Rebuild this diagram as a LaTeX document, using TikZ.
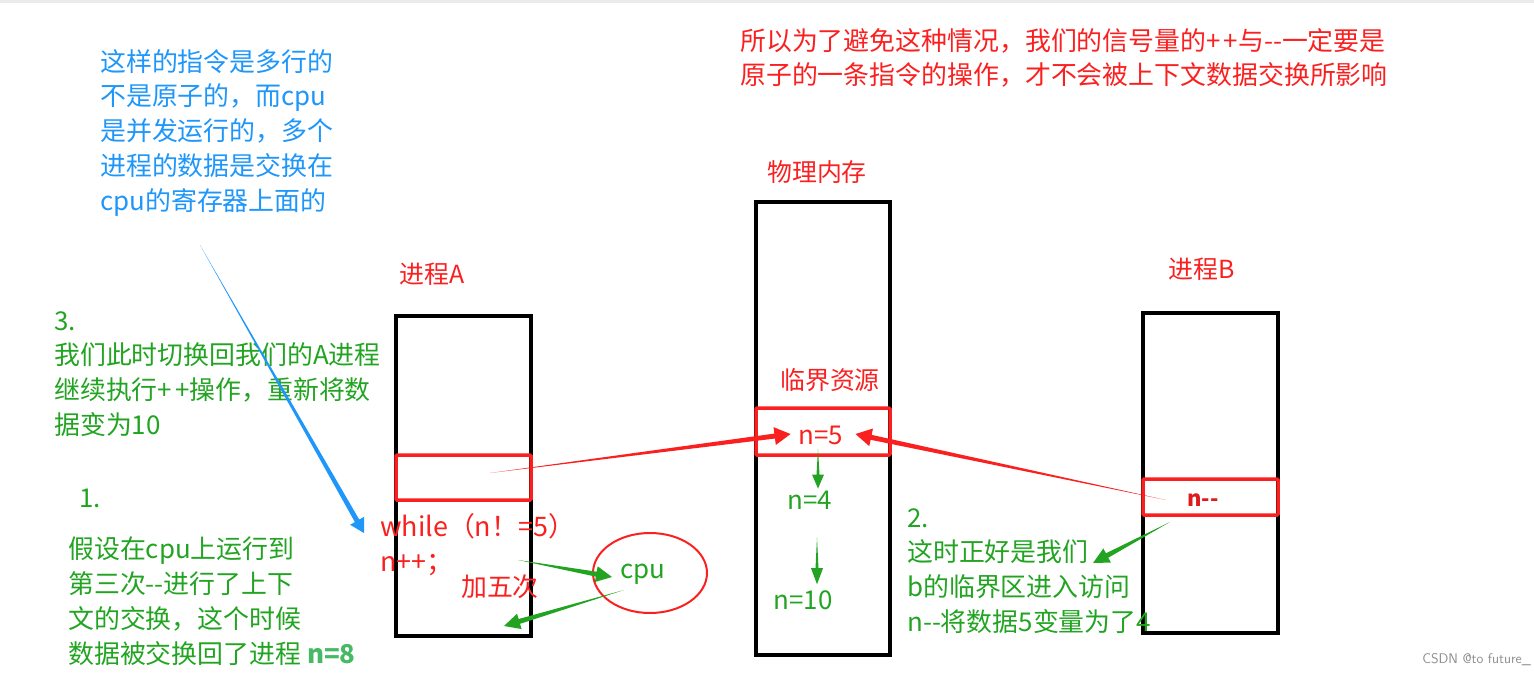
\documentclass[tikz,border=0pt]{standalone}
\usepackage{fontspec}
\newfontfamily\cjk{Noto Sans CJK SC}
\usetikzlibrary{calc}
\definecolor{inkred}{RGB}{250,32,32}
\definecolor{inkgreen}{RGB}{34,164,34}
\definecolor{lightgreen}{RGB}{70,185,100}
\definecolor{inkblue}{RGB}{30,150,250}
% tapered arrow: colour, tail, tip, half width at head, head half width, head length
\newcommand{\taperarrow}[6]{%
  \coordinate (tp-h) at ($(#3)!#6!(#2)$);
  \fill[#1] (#2) -- ($(tp-h)!#4!90:(#3)$) -- ($(tp-h)!#5!90:(#3)$) -- (#3)
    -- ($(tp-h)!#5!-90:(#3)$) -- ($(tp-h)!#4!-90:(#3)$) -- cycle;
}
\begin{document}
\begin{tikzpicture}[x=1bp,y=-1bp,line join=miter,
  every node/.style={font=\cjk\fontsize{26}{35}\selectfont,inner sep=0pt},
  note/.style={align=left,anchor=north west},
  cell/.style={draw=black,line width=3.5bp},
  slot/.style={draw=inkred,line width=3.5bp,rounded corners=1bp}]
  \useasboundingbox (0,0) rectangle (1534,676);
  \fill[black!8] (0,0) rectangle (1534,3);
%%
  % Node: procA
  \node[cell,minimum width=135bp,minimum height=320bp] (procA) at (463.5,476) {};
  \node[slot,minimum width=135bp,minimum height=45bp] (slotA) at (463.5,477.5) {};
  \node[text=inkred,font=\cjk\fontsize{25}{35}\selectfont] (nameA) at (432,274) {进程A};
  % Node: mem
  \node[cell,minimum width=134bp,minimum height=453bp] (mem) at (823,428.5) {};
  \node[slot,minimum width=134bp,minimum height=47bp] (slotM) at (823,431.5) {};
  \node[text=inkred,font=\cjk\fontsize{25}{35}\selectfont] (nameM) at (817,172) {物理内存};
  \node[text=inkred,font=\cjk\fontsize{25}{35}\selectfont] (crit) at (830,380) {临界资源};
  \node[text=inkred] (n5) at (821,435) {n=5};
  \node[text=inkgreen] (n4) at (810,500) {n=4};
  \node[text=inkgreen] (n10) at (803,600) {n=10};
  % Node: procB
  \node[cell,minimum width=135bp,minimum height=320bp] (procB) at (1210.5,473) {};
  \node[slot,minimum width=135bp,minimum height=36bp] (slotB) at (1210.5,497) {};
  \node[text=inkred,font=\cjk\fontsize{25}{35}\selectfont] (nameB) at (1202,269) {进程B};
  \node[text=inkred!88!black,font=\cjk\bfseries\fontsize{22}{30}\selectfont] (ndec) at (1203,500) {n-{}-};
  % Node: cpu
  \draw[inkred,line width=2bp] (650,573) ellipse (57bp and 40bp);
  \node[text=inkgreen] (cpu) at (643,574) {cpu};
  % Node: code
  \node[note,text=inkred,font=\cjk\fontsize{27}{35}\selectfont] (code) at (380,513) {while（n！=5）\\n++；};
  \node[text=inkred] (five) at (500,587) {加五次};
  % Node: notes
  \node[note,text=inkblue] (why) at (100,49)
    {这样的指令是多行的\\不是原子的，而cpu\\是并发运行的，多个\\进程的数据是交换在\\cpu的寄存器上面的};
  \node[note,text=inkred,font=\cjk\fontsize{26}{34}\selectfont] (sum) at (740,28)
    {所以为了避免这种情况，我们的信号量的+\kern3bp+与-{}-一定要是\\原子的一条指令的操作，才不会被上下文数据交换所影响};
  \node[note,text=inkgreen] (step3) at (54,311)
    {3.\\我们此时切换回我们的A进程\\继续执行+\kern3bp+操作，重新将数\\据变为10};
  \node[text=inkgreen,anchor=west] (step1) at (79,498) {1.};
  \node[note,text=inkgreen] (step1t) at (68,537)
    {假设在cpu上运行到\\第三次-{}-进行了上下\\文的交换，这个时候\\数据被交换回了进程 {\bfseries\color{lightgreen}n=8}};
  \node[note,text=inkgreen] (step2) at (907,508)
    {2.\\这时正好是我们\\b的临界区进入访问\\n-{}-将数据5变量为了4};
  \node[text=black!45,font=\sffamily\fontsize{14}{16}\selectfont,anchor=east] (mark) at (1531,660) {CSDN @to future\_};
%%
  \coordinate (blueTail) at (200,245);
  \coordinate (blueTip) at (364,533);
  \coordinate (aTail) at (490,473);
  \coordinate (aTip) at ($(n5.west)+(-8,-1)$);
  \coordinate (bTail) at (1166,500);
  \coordinate (bTip) at ($(n5.east)+(12,-1)$);
  \coordinate (toCpu) at (612,577);
  \coordinate (fromCode) at (518,560);
  \coordinate (fromCpu) at (624,590);
  \coordinate (backA) at (504,626);
  \coordinate (fromB) at (1170,522);
  \coordinate (toStep2) at (1093,563);
  % Edge: why -> code
  \taperarrow{inkblue}{blueTail}{blueTip}{2.5bp}{8bp}{14bp}
  % Edge: slotA -> n5
  \taperarrow{inkred}{aTail}{aTip}{2.5bp}{9bp}{16bp}
  % Edge: slotB -> n5
  \taperarrow{inkred}{bTail}{bTip}{2.5bp}{9bp}{16bp}
  % Edge: code -> cpu
  \taperarrow{inkgreen}{fromCode}{toCpu}{2.5bp}{8bp}{16bp}
  % Edge: cpu -> procA
  \taperarrow{inkgreen}{fromCpu}{backA}{2.5bp}{8bp}{16bp}
  % Edge: n5 -> n4
  \taperarrow{inkgreen}{$(n5.south)+(-3,4)$}{$(n4.north)+(8,-2)$}{1.5bp}{6bp}{14bp}
  % Edge: n4 -> n10
  \taperarrow{inkgreen}{$(n4.south)+(7,28)$}{$(n10.north)+(14,-6)$}{1.5bp}{6bp}{16bp}
  % Edge: slotB -> step2
  \taperarrow{inkgreen}{fromB}{toStep2}{2.5bp}{8bp}{16bp}
%
\end{tikzpicture}
\end{document}
